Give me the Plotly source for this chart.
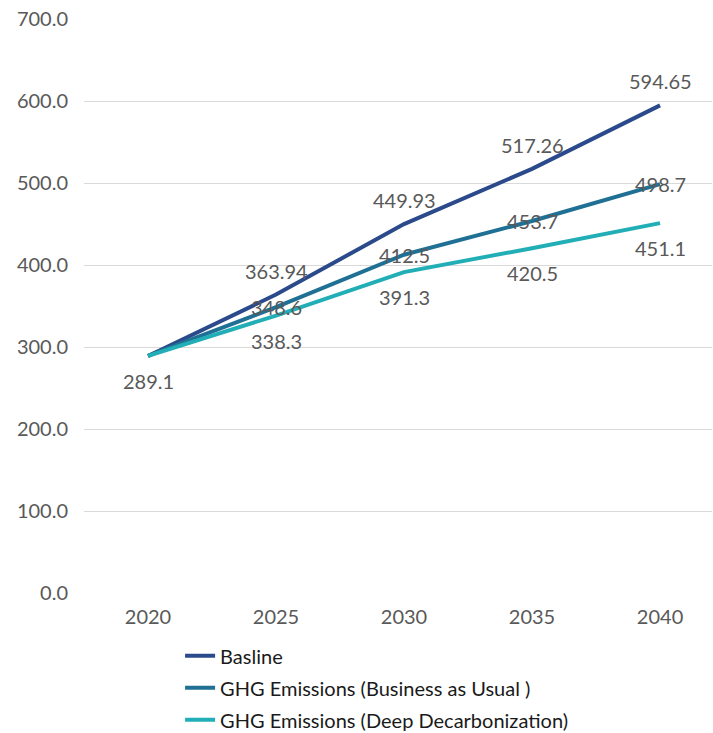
import plotly.graph_objects as go

years = ["2020", "2025", "2030", "2035", "2040"]
baseline = [289.1, 363.94, 449.93, 517.26, 594.65]
bau = [289.1, 348.6, 412.5, 453.7, 498.7]
deep = [289.1, 338.3, 391.3, 420.5, 451.1]

baseline_labels = [None] + [f"{v:.2f}" for v in baseline[1:]]
bau_labels = [None] + [f"{v:.1f}" for v in bau[1:]]
deep_labels = [f"{v:.1f}" for v in deep]

series = [
    ("Basline", baseline, baseline_labels, "#2B4A8B", 24),
    ("GHG Emissions (Business as Usual )", bau, bau_labels, "#1F7094", 0),
    ("GHG Emissions (Deep Decarbonization)", deep, deep_labels, "#22AEB6", -25),
]

label_font = dict(family="Lato", size=20, color="#595959")

fig = go.Figure()
for i, (name, values, labels, color, shift) in enumerate(series):
    fig.add_trace(go.Scatter(
        x=years, y=values, name=name, mode="lines",
        line=dict(color=color, width=4),
        legendgroup=f"g{i}",
    ))
# value labels, placed by category index
for i, (name, values, labels, color, shift) in enumerate(series):
    for k, (y, t) in enumerate(zip(values, labels)):
        if t is None:
            continue
        fig.add_annotation(
            x=k, y=y, xref="x", yref="y", text=t, showarrow=False, yshift=shift,
            font=label_font, xanchor="center", yanchor="middle",
        )

fig.update_layout(
    width=713, height=733,
    margin=dict(l=84, r=1, t=19, b=140, autoexpand=False),
    plot_bgcolor="white", paper_bgcolor="white",
    font=dict(family="Lato", size=20, color="#595959"),
    showlegend=True,
    legend=dict(
        orientation="v", x=0.153, xanchor="left",
        yref="container", y=0.132, yanchor="top",
        font=dict(family="Lato", size=20, color="#1a1a1a"),
        itemwidth=30, traceorder="grouped", tracegroupgap=3,
        bgcolor="rgba(0,0,0,0)",
    ),
    xaxis=dict(
        type="category", range=[-0.5, 4.406],
        showgrid=False, showline=False, zeroline=False, ticks="",
        ticklabelstandoff=10,
        tickfont=dict(family="Lato", size=20, color="#595959"),
    ),
    yaxis=dict(
        range=[0, 700], dtick=100, tickformat=".1f",
        showgrid=True, gridcolor="#D9D9D9", gridwidth=1,
        zeroline=False, showline=False, ticks="", ticklen=0,
        ticklabelstandoff=15,
        tickfont=dict(family="Lato", size=20, color="#595959"),
    ),
)

fig.write_html("out.html")
